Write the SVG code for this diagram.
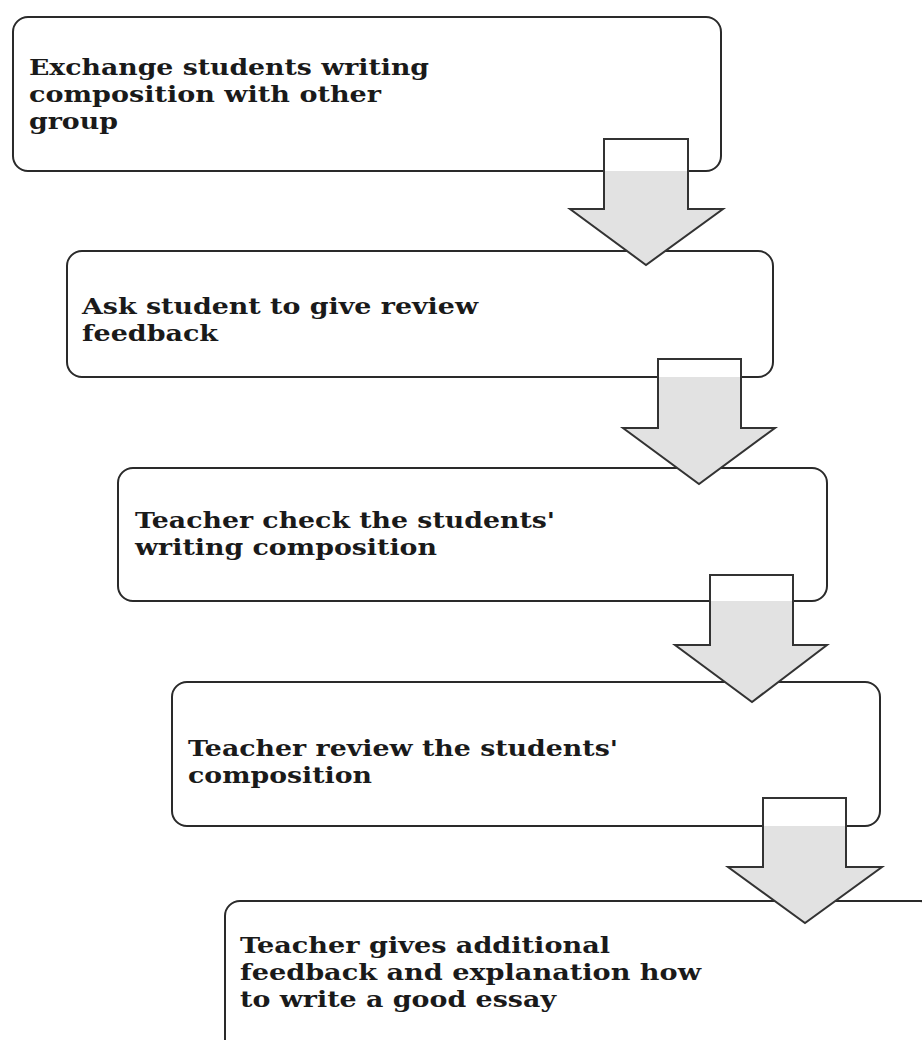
<svg xmlns="http://www.w3.org/2000/svg" width="922" height="1040" viewBox="0 0 922 1040">
<style>
.box{fill:#ffffff;stroke:#2a2a2a;stroke-width:2}
.lbl{font-family:"DejaVu Serif","Liberation Serif",serif;font-weight:bold;font-size:23px;fill:#1a1a1a}
.arr{fill:#e2e2e2;stroke:#333333;stroke-width:2;stroke-linejoin:miter}
.top{fill:#ffffff;stroke:none}
</style>
<rect width="922" height="1040" fill="#ffffff"/>
<g id="node1">
<rect class="box" x="13" y="17" width="708" height="154" rx="15"/>
<text class="lbl" x="29" y="75" textLength="400" lengthAdjust="spacingAndGlyphs">Exchange students writing</text>
<text class="lbl" x="29" y="102" textLength="352" lengthAdjust="spacingAndGlyphs">composition with other</text>
<text class="lbl" x="29" y="129" textLength="89" lengthAdjust="spacingAndGlyphs">group</text>
</g>
<g id="node2">
<rect class="box" x="67" y="251" width="706" height="126" rx="15"/>
<text class="lbl" x="82" y="314" textLength="396" lengthAdjust="spacingAndGlyphs">Ask student to give review</text>
<text class="lbl" x="82" y="341" textLength="136" lengthAdjust="spacingAndGlyphs">feedback</text>
</g>
<g id="node3">
<rect class="box" x="118" y="468" width="709" height="133" rx="15"/>
<text class="lbl" x="135" y="528" textLength="420" lengthAdjust="spacingAndGlyphs">Teacher check the students'</text>
<text class="lbl" x="135" y="555" textLength="302" lengthAdjust="spacingAndGlyphs">writing composition</text>
</g>
<g id="node4">
<rect class="box" x="172" y="682" width="708" height="144" rx="15"/>
<text class="lbl" x="188" y="756" textLength="430" lengthAdjust="spacingAndGlyphs">Teacher review the students'</text>
<text class="lbl" x="188" y="783" textLength="184" lengthAdjust="spacingAndGlyphs">composition</text>
</g>
<g id="node5">
<rect class="box" x="225" y="901" width="710" height="200" rx="15"/>
<text class="lbl" x="240" y="953" textLength="370" lengthAdjust="spacingAndGlyphs">Teacher gives additional</text>
<text class="lbl" x="240" y="980" textLength="461" lengthAdjust="spacingAndGlyphs">feedback and explanation how</text>
<text class="lbl" x="240" y="1007" textLength="316" lengthAdjust="spacingAndGlyphs">to write a good essay</text>
</g>
<g id="connectors">
<g id="arrow1">
<polygon class="arr" points="604,139 688,139 688,209 723,209 646,265 570,209 604,209"/>
<rect class="top" x="605" y="140" width="82" height="31"/>
</g>
<g id="arrow2">
<polygon class="arr" points="658,359 741,359 741,428 775,428 699,484 623,428 658,428"/>
<rect class="top" x="659" y="360" width="81" height="17"/>
</g>
<g id="arrow3">
<polygon class="arr" points="710,575 793,575 793,645 827,645 752,702 675,645 710,645"/>
<rect class="top" x="711" y="576" width="81" height="25"/>
</g>
<g id="arrow4">
<polygon class="arr" points="763,798 846,798 846,867 882,867 805,923 728,867 763,867"/>
<rect class="top" x="764" y="799" width="81" height="27"/>
</g>
</g>
</svg>
